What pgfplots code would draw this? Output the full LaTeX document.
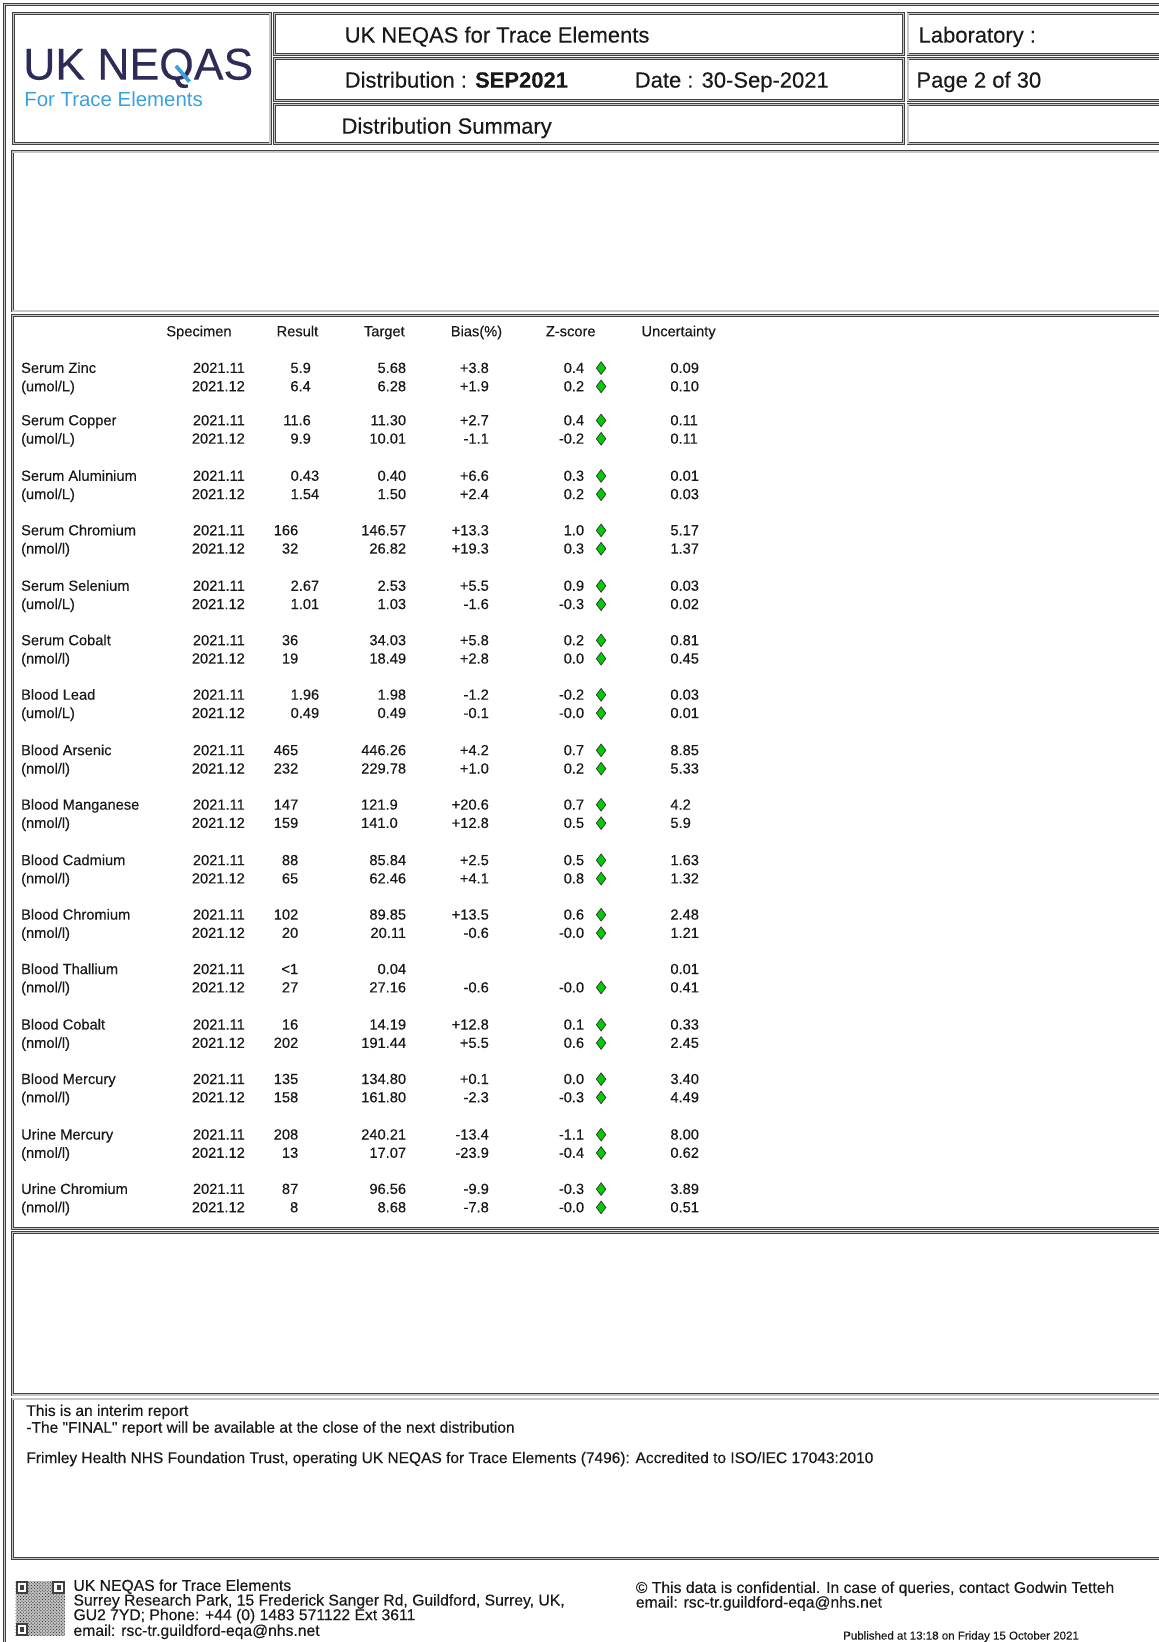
\documentclass[border=0pt]{standalone}
\usepackage{pgfplots}
\pgfplotsset{compat=1.18}
\usepackage{fontspec}
\setmainfont{Liberation Sans}
\newfontfamily\rfont{Liberation Sans}[FakeBold=0.3]
\usetikzlibrary{patterns}

\definecolor{navy}{RGB}{45,44,88}
\definecolor{logoblue}{RGB}{58,160,222}
\definecolor{zgreen}{RGB}{0,205,0}
\definecolor{txt}{RGB}{25,25,25}

\newcommand\Row[9]{%
  \node[tt,anchor=mid east] at (234,#1) {#2};
  \node[tt,anchor=mid east] at (#4,#1) {#3};
  \node[tt,anchor=mid east] at (#6,#1) {#5};
  \node[tt,anchor=mid east] at (467,#1) {#7};
  \node[tt,anchor=mid east] at (558,#1) {#8};
  \node[tt,anchor=mid west] at (640,#1) {#9};
}
\newcommand\Name[3]{%
  \node[tt,anchor=mid west] at (20,#1) {#2};
  \node[tt,anchor=mid west] at (20,#1+17.5) {#3};
}
\newcommand\bx[4]{\draw[bstyle] (#1,#2) rectangle (#3,#4);}
\newcommand\finder[2]{%
  \fill[black!75] (#1,#2) rectangle (#1+12,#2+12);
  \fill[white] (#1+2,#2+2) rectangle (#1+10,#2+10);
  \fill[black!75] (#1+4,#2+4) rectangle (#1+8,#2+8);
}

\begin{document}
\begin{tikzpicture}[x=1pt,y=1pt,
  tt/.style={font=\rfont\fontsize{14}{16}\selectfont, text=txt, inner sep=0pt, yshift=-2.5pt},
  nt/.style={font=\rfont\fontsize{14.8}{16}\selectfont, text=txt, inner sep=0pt, yshift=-2.5pt},
  hd/.style={font=\rfont\fontsize{21}{24}\selectfont, text=txt, inner sep=0pt, yshift=-4pt},
  ft/.style={font=\rfont\fontsize{15}{16}\selectfont, text=txt, inner sep=0pt, yshift=-2.5pt},
  bstyle/.style={draw=black!75, line width=0.7pt, double=gray!45, double distance=1.3pt}]
\path[use as bounding box] (0,0) rectangle (1106,1568);
\begin{axis}[at={(0,0)}, anchor=south west, width=1106pt, height=1568pt,
  scale only axis, xmin=0, xmax=1106, ymin=0, ymax=1568, y dir=reverse,
  hide axis, clip=false]

% frames
\bx{4}{4}{1140}{1610}
\bx{13}{13}{258}{137}
\bx{262}{13}{863}{52}
\bx{262}{56}{863}{96}
\bx{262}{100}{863}{137}
\bx{867}{13}{1130}{52}
\bx{867}{56}{1130}{96}
\bx{867}{100}{1130}{137}
\bx{12}{145}{1130}{297}
\bx{12}{301}{1130}{1173}
\bx{12}{1177}{1130}{1332}
\bx{12}{1336}{1130}{1488}

% logo
\node[inner sep=0pt, anchor=base west, text=navy, font=\rfont\fontsize{42.5}{46}\selectfont] at (22,76) {UK NEQAS};
\draw[logoblue, line width=3.6pt] (168,63) -- (181,78);
\node[inner sep=0pt, anchor=base west, text=logoblue, font=\fontsize{19.5}{22}\selectfont] at (23,101.5) {For Trace Elements};

% header texts
\node[hd,anchor=mid west] at (329,34) {UK NEQAS for Trace Elements};
\node[hd,anchor=mid west] at (329,77) {Distribution : \textbf{SEP2021}};
\node[hd,anchor=mid west] at (606,77) {Date : 30-Sep-2021};
\node[hd,anchor=mid west] at (326,121) {Distribution Summary};
\node[hd,anchor=mid west] at (877,34) {Laboratory :};
\node[hd,anchor=mid west] at (875,77) {Page 2 of 30};

% table header
\node[tt,anchor=mid] at (190,316) {Specimen};
\node[tt,anchor=mid] at (284,316) {Result};
\node[tt,anchor=mid] at (367,316) {Target};
\node[tt,anchor=mid] at (455,316) {Bias(\%)};
\node[tt,anchor=mid] at (545,316) {Z-score};
\node[tt,anchor=mid] at (648,316) {Uncertainty};

% rows: y, specimen, result, result-x, target, target-x, bias, z, uncertainty
\Name{351}{Serum Zinc}{(umol/L)}
\Row{351}{2021.11}{5.9}{297}{5.68}{388}{+3.8}{0.4}{0.09}
\Row{368.5}{2021.12}{6.4}{297}{6.28}{388}{+1.9}{0.2}{0.10}
\Name{401}{Serum Copper}{(umol/L)}
\Row{401}{2021.11}{11.6}{297}{11.30}{388}{+2.7}{0.4}{0.11}
\Row{418.5}{2021.12}{9.9}{297}{10.01}{388}{-1.1}{-0.2}{0.11}
\Name{454}{Serum Aluminium}{(umol/L)}
\Row{454}{2021.11}{0.43}{305}{0.40}{388}{+6.6}{0.3}{0.01}
\Row{471.5}{2021.12}{1.54}{305}{1.50}{388}{+2.4}{0.2}{0.03}
\Name{506}{Serum Chromium}{(nmol/l)}
\Row{506}{2021.11}{166}{285}{146.57}{388}{+13.3}{1.0}{5.17}
\Row{523.5}{2021.12}{32}{285}{26.82}{388}{+19.3}{0.3}{1.37}
\Name{559}{Serum Selenium}{(umol/L)}
\Row{559}{2021.11}{2.67}{305}{2.53}{388}{+5.5}{0.9}{0.03}
\Row{576.5}{2021.12}{1.01}{305}{1.03}{388}{-1.6}{-0.3}{0.02}
\Name{611}{Serum Cobalt}{(nmol/l)}
\Row{611}{2021.11}{36}{285}{34.03}{388}{+5.8}{0.2}{0.81}
\Row{628.5}{2021.12}{19}{285}{18.49}{388}{+2.8}{0.0}{0.45}
\Name{663}{Blood Lead}{(umol/L)}
\Row{663}{2021.11}{1.96}{305}{1.98}{388}{-1.2}{-0.2}{0.03}
\Row{680.5}{2021.12}{0.49}{305}{0.49}{388}{-0.1}{-0.0}{0.01}
\Name{716}{Blood Arsenic}{(nmol/l)}
\Row{716}{2021.11}{465}{285}{446.26}{388}{+4.2}{0.7}{8.85}
\Row{733.5}{2021.12}{232}{285}{229.78}{388}{+1.0}{0.2}{5.33}
\Name{768}{Blood Manganese}{(nmol/l)}
\Row{768}{2021.11}{147}{285}{121.9}{380}{+20.6}{0.7}{4.2}
\Row{785.5}{2021.12}{159}{285}{141.0}{380}{+12.8}{0.5}{5.9}
\Name{821}{Blood Cadmium}{(nmol/l)}
\Row{821}{2021.11}{88}{285}{85.84}{388}{+2.5}{0.5}{1.63}
\Row{838.5}{2021.12}{65}{285}{62.46}{388}{+4.1}{0.8}{1.32}
\Name{873}{Blood Chromium}{(nmol/l)}
\Row{873}{2021.11}{102}{285}{89.85}{388}{+13.5}{0.6}{2.48}
\Row{890.5}{2021.12}{20}{285}{20.11}{388}{-0.6}{-0.0}{1.21}
\Name{925}{Blood Thallium}{(nmol/l)}
\Row{925}{2021.11}{<1}{285}{0.04}{388}{}{}{0.01}
\Row{942.5}{2021.12}{27}{285}{27.16}{388}{-0.6}{-0.0}{0.41}
\Name{978}{Blood Cobalt}{(nmol/l)}
\Row{978}{2021.11}{16}{285}{14.19}{388}{+12.8}{0.1}{0.33}
\Row{995.5}{2021.12}{202}{285}{191.44}{388}{+5.5}{0.6}{2.45}
\Name{1030}{Blood Mercury}{(nmol/l)}
\Row{1030}{2021.11}{135}{285}{134.80}{388}{+0.1}{0.0}{3.40}
\Row{1047.5}{2021.12}{158}{285}{161.80}{388}{-2.3}{-0.3}{4.49}
\Name{1083}{Urine Mercury}{(nmol/l)}
\Row{1083}{2021.11}{208}{285}{240.21}{388}{-13.4}{-1.1}{8.00}
\Row{1100.5}{2021.12}{13}{285}{17.07}{388}{-23.9}{-0.4}{0.62}
\Name{1135}{Urine Chromium}{(nmol/l)}
\Row{1135}{2021.11}{87}{285}{96.56}{388}{-9.9}{-0.3}{3.89}
\Row{1152.5}{2021.12}{8}{285}{8.68}{388}{-7.8}{-0.0}{0.51}

% z-score status diamonds
\addplot[only marks, mark=diamond*, mark size=6pt,
  mark options={fill=zgreen, draw=black!80, line width=0.7pt}] coordinates {
(574,351.5) (574,369) (574,401.5) (574,419) (574,454.5) (574,472)
(574,506.5) (574,524) (574,559.5) (574,577) (574,611.5) (574,629)
(574,663.5) (574,681) (574,716.5) (574,734) (574,768.5) (574,786)
(574,821.5) (574,839) (574,873.5) (574,891) (574,943)
(574,978.5) (574,996) (574,1030.5) (574,1048) (574,1083.5) (574,1101)
(574,1135.5) (574,1153)};

% notes
\node[nt,anchor=mid west] at (25,1347) {This is an interim report};
\node[nt,anchor=mid west] at (25,1363) {-The "FINAL" report will be available at the close of the next distribution};
\node[nt,anchor=mid west] at (25,1392) {Frimley Health NHS Foundation Trust, operating UK NEQAS for Trace Elements (7496): Accredited to ISO/IEC 17043:2010};

% footer
\fill[gray!50] (15,1510) rectangle (62,1562);
\fill[pattern=crosshatch dots, pattern color=black!85] (15,1510) rectangle (62,1562);
\finder{15}{1510}
\finder{50}{1510}
\finder{15}{1550}
\node[ft,anchor=mid west] at (70,1514) {UK NEQAS for Trace Elements};
\node[ft,anchor=mid west] at (70,1528) {Surrey Research Park, 15 Frederick Sanger Rd, Guildford, Surrey, UK,};
\node[ft,anchor=mid west] at (70,1542) {GU2 7YD; Phone: +44 (0) 1483 571122 Ext 3611};
\node[ft,anchor=mid west] at (70,1557) {email: rsc-tr.guildford-eqa@nhs.net};
\node[ft,anchor=mid west] at (607,1516) {© This data is confidential. In case of queries, contact Godwin Tetteh};
\node[ft,anchor=mid west] at (607,1530) {email: rsc-tr.guildford-eqa@nhs.net};
\node[inner sep=0pt, text=txt, font=\rfont\fontsize{11}{12}\selectfont, anchor=mid west] at (805,1563) {Published at 13:18 on Friday 15 October 2021};
\end{axis}
\end{tikzpicture}
\end{document}
